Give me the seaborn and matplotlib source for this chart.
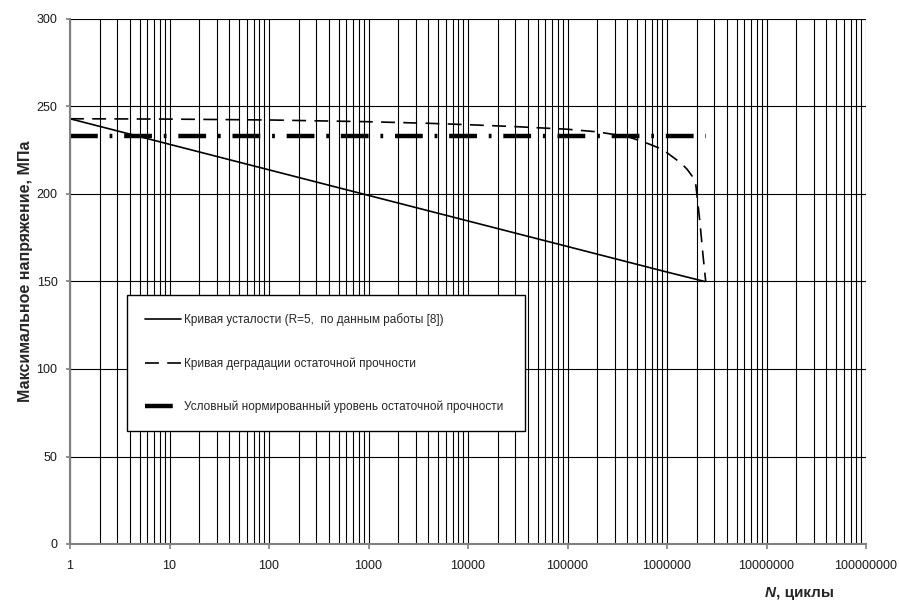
import matplotlib
matplotlib.use("Agg")
import matplotlib.pyplot as plt
import matplotlib.ticker as mticker
import numpy as np
import pandas as pd
import seaborn as sns

# Fatigue curve (S-N), R=5
fatigue_N = [1, 10, 100, 1000, 1e4, 1e5, 1e6, 2.4e6]
fatigue_S = [243, 228.4, 213.8, 199.2, 184.6, 170, 155.4, 150]

# Residual strength degradation curve
degr_N = [1, 10, 100, 1000, 4e3, 1e4, 3e4, 1e5, 2e5, 4e5, 6e5, 9e5,
          1.25e6, 1.45e6, 1.6e6, 1.8e6, 1.95e6, 2.05e6, 2.15e6, 2.3e6, 2.45e6]
degr_S = [243, 242.8, 242.3, 241.3, 240.4, 239.6, 238.5, 237, 235.5, 232.8,
          229.5, 225.5, 219.5, 216.5, 214, 210, 205, 194, 183, 165, 150]

# Conditional normalized residual strength level
level_N = [1, 2.45e6]
level_S = [233, 233]

# Axis ticks
x_ticks = [1, 10, 100, 1000, 10000, 100000, 1000000, 10000000, 100000000]
y_ticks = [0, 50, 100, 150, 200, 250, 300]

labels = [
    "Кривая усталости (R=5,  по данным работы [8])",
    "Кривая деградации остаточной прочности",
    "Условный нормированный уровень остаточной прочности",
]

sns.set_theme(style="white")
plt.rcParams["font.family"] = ["Liberation Sans", "DejaVu Sans"]
plt.rcParams["lines.scale_dashes"] = False

fig = plt.figure(figsize=(8.99, 6.01), dpi=100)
ax = fig.add_axes([70 / 899, 1 - 544 / 601, (866 - 70) / 899, (544 - 19) / 601])

df_f = pd.DataFrame({"N": fatigue_N, "S": fatigue_S})
df_d = pd.DataFrame({"N": degr_N, "S": degr_S})
df_l = pd.DataFrame({"N": level_N, "S": level_S})

ax.set_xscale("log")
sns.lineplot(data=df_f, x="N", y="S", ax=ax, color="black", linewidth=1.2,
             label=labels[0], zorder=5)
sns.lineplot(data=df_d, x="N", y="S", ax=ax, color="black", linewidth=1.2,
             linestyle=(0, (10, 6)), label=labels[1], zorder=5)
sns.lineplot(data=df_l, x="N", y="S", ax=ax, color="black", linewidth=3.2,
             linestyle=(0, (20, 8.5, 2, 8.5)), label=labels[2], zorder=5)

ax.set_xlim(x_ticks[0], x_ticks[-1])
ax.set_ylim(y_ticks[0], y_ticks[-1])

# Ticks and grid
ax.xaxis.set_major_locator(mticker.FixedLocator(x_ticks))
ax.xaxis.set_minor_locator(mticker.LogLocator(base=10, subs=np.arange(2, 10), numticks=100))
ax.xaxis.set_major_formatter(mticker.FixedFormatter([str(t) for t in x_ticks]))
ax.xaxis.set_minor_formatter(mticker.NullFormatter())
ax.yaxis.set_major_locator(mticker.FixedLocator(y_ticks))
ax.yaxis.set_major_formatter(mticker.FixedFormatter([str(t) for t in y_ticks]))

ax.grid(True, which="major", axis="both", color="black", linewidth=0.8)
ax.grid(True, which="minor", axis="x", color="black", linewidth=0.8)
ax.set_axisbelow(True)

for s in ["top", "right"]:
    ax.spines[s].set_visible(False)
for s in ["left", "bottom"]:
    ax.spines[s].set_color("#808080")
    ax.spines[s].set_linewidth(1.5)
    ax.spines[s].set_zorder(6)

ax.tick_params(axis="x", which="major", direction="out", length=3.5, width=1.2,
               color="#808080", bottom=True, labelsize=9, pad=8, labelcolor="#1a1a1a")
ax.tick_params(axis="x", which="minor", bottom=False)
ax.tick_params(axis="y", which="major", direction="out", length=3, width=1.2,
               color="#808080", left=True, labelsize=9, pad=6, labelcolor="#1a1a1a")

ax.set_xlabel("")
ax.set_ylabel("Максимальное напряжение, МПа", fontsize=11.5, fontweight="bold")
ax.yaxis.set_label_coords(-0.0465, 0.52)

fig.text(776 / 899, 1 - 593 / 601, "N", fontsize=11, fontweight="bold",
         fontstyle="italic", ha="right", va="center")
fig.text(776 / 899, 1 - 593 / 601, ", циклы", fontsize=11, fontweight="bold",
         ha="left", va="center")

leg = ax.legend(loc="upper left",
                bbox_to_anchor=((127 - 70) / 796, (544 - 428) / 525,
                                (525 - 127) / 796, (428 - 295) / 525),
                mode="expand", borderaxespad=0, fontsize=8.5, frameon=True,
                fancybox=False, edgecolor="black", framealpha=1,
                handlelength=3.0, handletextpad=0.3, labelspacing=2.62,
                borderpad=1.55)
leg.get_frame().set_linewidth(1.0)

fig.savefig("out.png", dpi=100)
